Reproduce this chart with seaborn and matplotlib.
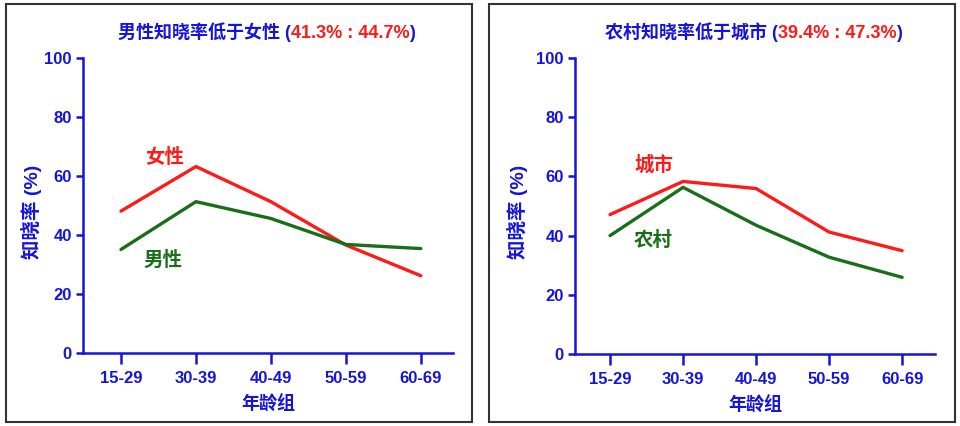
import matplotlib
matplotlib.use("Agg")
import matplotlib.pyplot as plt
import seaborn as sns
import pandas as pd
from matplotlib.patches import Rectangle

sns.set_theme(style="white")
plt.rcParams['font.family'] = ['Liberation Sans', 'Noto Sans CJK SC', 'DejaVu Sans']

age_groups = ["15-29", "30-39", "40-49", "50-59", "60-69"]
female = [48.1, 63.2, 51.3, 36.6, 26.2]
male = [35.1, 51.3, 45.6, 36.8, 35.4]
urban = [47.1, 58.3, 55.9, 41.2, 34.9]
rural = [40.0, 56.3, 43.5, 32.7, 25.9]
yticks = [0, 20, 40, 60, 80, 100]

BLUE = "#1414dc"
RED = "#ff1a1a"
GREEN = "#1a6e1a"

fig = plt.figure(figsize=(9.6, 4.26), dpi=100)

# panel frames
for x0, x1 in [(6, 472), (489, 955)]:
    fig.patches.append(Rectangle((x0 / 960, 4 / 426), (x1 - x0) / 960, 418 / 426,
                                 transform=fig.transFigure, fill=False,
                                 edgecolor="#333333", linewidth=1.5))

def make_df(a, b, na, nb):
    rows = []
    for i, g in enumerate(age_groups):
        rows.append({"pos": i, "value": a[i], "group": na})
        rows.append({"pos": i, "value": b[i], "group": nb})
    return pd.DataFrame(rows)

def style_axes(ax, xlim):
    ax.set_xlim(*xlim)
    ax.set_ylim(0, 100)
    ax.set_yticks(yticks)
    ax.set_xticks(range(len(age_groups)))
    ax.set_xticklabels(age_groups)
    for s in ["top", "right"]:
        ax.spines[s].set_visible(False)
    for s in ["left", "bottom"]:
        ax.spines[s].set_color(BLUE)
        ax.spines[s].set_linewidth(1.8)
    ax.tick_params(axis="y", length=5, width=1.8, color=BLUE, labelcolor=BLUE,
                   labelsize=12, pad=3, left=True)
    ax.tick_params(axis="x", length=8, width=1.8, color=BLUE, labelcolor=BLUE,
                   labelsize=12, pad=5, bottom=True)
    for lab in ax.get_xticklabels() + ax.get_yticklabels():
        lab.set_fontweight("bold")
    ax.set_facecolor("none")
    ax.set_xlabel("年龄组", color=BLUE, fontsize=13, fontweight="bold", labelpad=7)
    ax.set_ylabel("知晓率 (%)", color=BLUE, fontsize=14, fontweight="bold")

def colored_title(ax, x, y, parts):
    first = fig.text(x / 960, 1 - y / 426, parts[0][0], color=parts[0][1], fontsize=13,
                     fontweight="bold", va="center", ha="left")
    prev = first
    for txt, col in parts[1:]:
        prev = ax.annotate(txt, xy=(1, 0), xycoords=prev, va="bottom", ha="left",
                           color=col, fontsize=13, fontweight="bold",
                           annotation_clip=False)

# Left panel
ax1 = fig.add_axes([83 / 960, 1 - 353 / 426, 370 / 960, 295 / 426])
df1 = make_df(female, male, "女性", "男性")
sns.lineplot(data=df1, x="pos", y="value", hue="group",
             palette={"女性": RED, "男性": GREEN}, linewidth=2.4, legend=False, ax=ax1)
style_axes(ax1, (-0.507, 4.43))
ax1.text(0.59, 66.4, "女性", color=RED, fontsize=14, fontweight="bold", ha="center", va="center")
ax1.text(0.56, 31.5, "男性", color=GREEN, fontsize=14, fontweight="bold", ha="center", va="center")
ax1.yaxis.set_label_coords(-0.11, 0.48)

# Right panel
ax2 = fig.add_axes([575 / 960, 1 - 354 / 426, 360 / 960, 296 / 426])
df2 = make_df(urban, rural, "城市", "农村")
sns.lineplot(data=df2, x="pos", y="value", hue="group",
             palette={"城市": RED, "农村": GREEN}, linewidth=2.4, legend=False, ax=ax2)
style_axes(ax2, (-0.48, 4.45))
ax2.text(0.6, 63.9, "城市", color=RED, fontsize=14, fontweight="bold", ha="center", va="center")
ax2.text(0.59, 38.5, "农村", color=GREEN, fontsize=14, fontweight="bold", ha="center", va="center")
ax2.yaxis.set_label_coords(-0.13, 0.48)

colored_title(ax1, 118, 32, [("男性知晓率低于女性 (", BLUE), ("41.3% : 44.7%", RED), (")", BLUE)])
colored_title(ax2, 605, 32, [("农村知晓率低于城市 (", BLUE), ("39.4% : 47.3%", RED), (")", BLUE)])

fig.savefig("out.png", dpi=100)
